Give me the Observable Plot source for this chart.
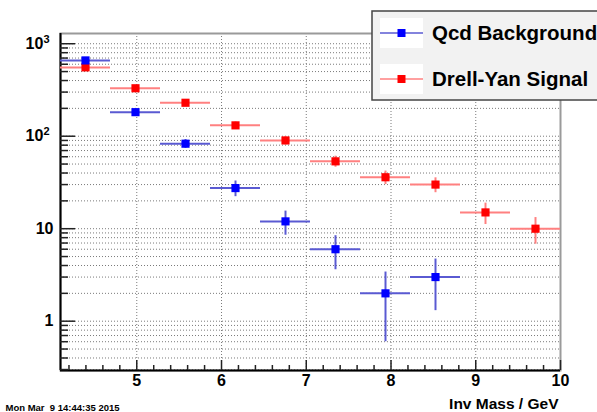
<!DOCTYPE html>
<html>
<head>
<meta charset="utf-8">
<script src="https://cdn.jsdelivr.net/npm/d3@7"></script>
<script src="https://cdn.jsdelivr.net/npm/@observablehq/plot@0.6"></script>
<style>
  html, body { margin: 0; padding: 0; background: #fff; overflow: hidden; }
  svg text { white-space: pre; }
</style>
</head>
<body>
<div id="chart"></div>
<script>
// ---- data ----
const binEdges = [4.1, 4.69, 5.28, 5.87, 6.46, 7.05, 7.64, 8.23, 8.82, 9.41, 10];
const qcdValues = [660, 182, 83, 27.5, 12, 6, 2, 3];
const qcdErrors = [26, 13.5, 9, 5.3, 3.5, 2.4, 1.4, 1.7];
const dyValues = [555, 330, 230, 131, 90, 53.5, 36, 30, 15, 10];
const dyErrors = [23.5, 18, 15, 11.5, 9.5, 7.3, 6, 5.5, 3.9, 3.2];
const seriesNames = ["Qcd Background", "Drell-Yan Signal"];
const xMajor = [5, 6, 7, 8, 9, 10];
const xMajorLabels = ["5", "6", "7", "8", "9", "10"];
const xMinor = [4.2, 4.4, 4.6, 4.8, 5.2, 5.4, 5.6, 5.8, 6.2, 6.4, 6.6, 6.8, 7.2, 7.4, 7.6, 7.8, 8.2, 8.4, 8.6, 8.8, 9.2, 9.4, 9.6, 9.8];
const yMajor = [1, 10, 100, 1000];
const yLabelBase = ["1", "10", "10", "10"];
const yLabelExp = ["", "", "2", "3"];
const yMinor = [0.3, 0.4, 0.5, 0.6, 0.7, 0.8, 0.9, 2, 3, 4, 5, 6, 7, 8, 9, 20, 30, 40, 50, 60, 70, 80, 90, 200, 300, 400, 500, 600, 700, 800, 900];
const xTitle = "Inv Mass / GeV";
const dateText = "Mon Mar \u00a09 14:44:35 2015";
const xDomain = [4.1, 10];
const yDomain = [0.293, 1290];

// ---- build tables ----
function table(values, errors) {
  return values.map((v, i) => ({
    lo: binEdges[i], hi: binEdges[i + 1], c: (binEdges[i] + binEdges[i + 1]) / 2,
    v, e: errors[i], y1: v - errors[i], y2: v + errors[i]
  }));
}
const qcd = table(qcdValues, qcdErrors);
const dy = table(dyValues, dyErrors);

const W = 597, H = 412, mL = 60, mR = 37, mT = 33, mB = 42;
const pw = W - mL - mR, ph = H - mT - mB;
const font = "'Liberation Sans', Arial, Helvetica, sans-serif";
const blueLine = "#5a5ad2", redLine = "#ff8080";

const chart = Plot.plot({
  width: W, height: H,
  marginLeft: mL, marginRight: mR, marginTop: mT, marginBottom: mB,
  style: { fontFamily: font, fontWeight: "bold", background: "#fff", overflow: "visible" },
  x: { type: "linear", domain: xDomain, axis: null },
  y: { type: "log", domain: yDomain, axis: null },
  marks: [
    // grid
    Plot.ruleY([...yMinor, ...yMajor], { y: d => d, stroke: "#7a7a7a", strokeWidth: 1, strokeDasharray: "1,2" }),
    Plot.ruleX(xMajor.slice(0, 5), { x: d => d, stroke: "#7a7a7a", strokeWidth: 1, strokeDasharray: "1,2" }),
    // frame
    Plot.frame({ stroke: "#9a9a9a", strokeWidth: 2 }),
    Plot.ruleX([xDomain[0]], { x: d => d, stroke: "#000", strokeWidth: 2 }),
    Plot.ruleY([yDomain[0]], { y: d => d, stroke: "#000", strokeWidth: 2 }),
    // ticks
    Plot.tickY(yMajor, { y: d => d, insetRight: pw - 15, stroke: "#222", strokeWidth: 1.5 }),
    Plot.tickY(yMinor, { y: d => d, insetRight: pw - 8, stroke: "#222", strokeWidth: 1.5 }),
    Plot.tickX(xMajor, { x: d => d, insetTop: ph - 10, stroke: "#222", strokeWidth: 1.5 }),
    Plot.tickX(xMinor, { x: d => d, insetTop: ph - 5, stroke: "#222", strokeWidth: 1.5 }),
    // tick labels
    Plot.text(yMajor, { y: d => d, text: (d, i) => yLabelBase[i] + yLabelExp[i], frameAnchor: "left", textAnchor: "end", dx: -7, fontSize: 16, fill: "#000", className: "ylab" }),
    Plot.text(xMajor, { x: d => d, text: (d, i) => xMajorLabels[i], frameAnchor: "bottom", lineAnchor: "top", dy: 4, fontSize: 16, fill: "#000" }),
    // error bars
    Plot.ruleY(dy, { y: "v", x1: "lo", x2: "hi", stroke: redLine, strokeWidth: 2 }),
    Plot.ruleX(dy, { x: "c", y1: "y1", y2: "y2", stroke: redLine, strokeWidth: 2 }),
    Plot.ruleY(qcd, { y: "v", x1: "lo", x2: "hi", stroke: blueLine, strokeWidth: 2 }),
    Plot.ruleX(qcd, { x: "c", y1: "y1", y2: "y2", stroke: blueLine, strokeWidth: 2 }),
    // markers
    Plot.dot(dy, { x: "c", y: "v", symbol: "square", r: 4.6, fill: "#ff0000", stroke: "none" }),
    Plot.dot(qcd, { x: "c", y: "v", symbol: "square", r: 4.6, fill: "#0000ff", stroke: "none" }),
    // titles
    Plot.text([xTitle], { text: d => d, frameAnchor: "bottom-right", textAnchor: "end", lineAnchor: "bottom", dx: -2, dy: 38, fontSize: 15.5, fill: "#000" }),
    Plot.text([dateText], { text: d => d, frameAnchor: "bottom-left", textAnchor: "start", lineAnchor: "bottom", dx: -55, dy: 40, fontSize: 9.5, fill: "#000" })
  ]
});

const svg = d3.select(chart);

// superscript exponents on the y tick labels
svg.selectAll("g.ylab text").each(function () {
  const t = d3.select(this);
  const i = yMajor.findIndex((v, j) => yLabelBase[j] + yLabelExp[j] === t.text() && yLabelExp[j]);
  if (i < 0) return;
  t.text(null);
  t.append("tspan").text(yLabelBase[i]);
  t.append("tspan").attr("font-size", 11).attr("dy", "-0.55em").text(yLabelExp[i]);
  t.attr("dx", -4);
});

// ---- legend ----
const lg = svg.append("g").attr("font-family", font).attr("font-weight", "bold").attr("text-anchor", "start");
lg.append("rect").attr("x", 372).attr("y", 11).attr("width", 260).attr("height", 89)
  .attr("fill", "#f2f2f2").attr("stroke", "#444").attr("stroke-width", 1.5);
const entries = [
  { name: seriesNames[0], line: blueLine, fill: "#0000ff", y: 33 },
  { name: seriesNames[1], line: redLine, fill: "#ff0000", y: 79 }
];
for (const e of entries) {
  lg.append("rect").attr("x", 380).attr("y", e.y - 15).attr("width", 43).attr("height", 30).attr("fill", "#fff");
  lg.append("line").attr("x1", 380).attr("x2", 423).attr("y1", e.y).attr("y2", e.y).attr("stroke", e.line).attr("stroke-width", 1.5);
  lg.append("rect").attr("x", 397.5).attr("y", e.y - 4).attr("width", 8).attr("height", 8).attr("fill", e.fill);
  lg.append("text").attr("x", 432).attr("y", e.y).attr("dy", "0.36em").attr("font-size", 20.5).attr("fill", "#000").attr("text-anchor", "start").text(e.name);
}

document.getElementById("chart").appendChild(chart);
</script>
</body>
</html>
